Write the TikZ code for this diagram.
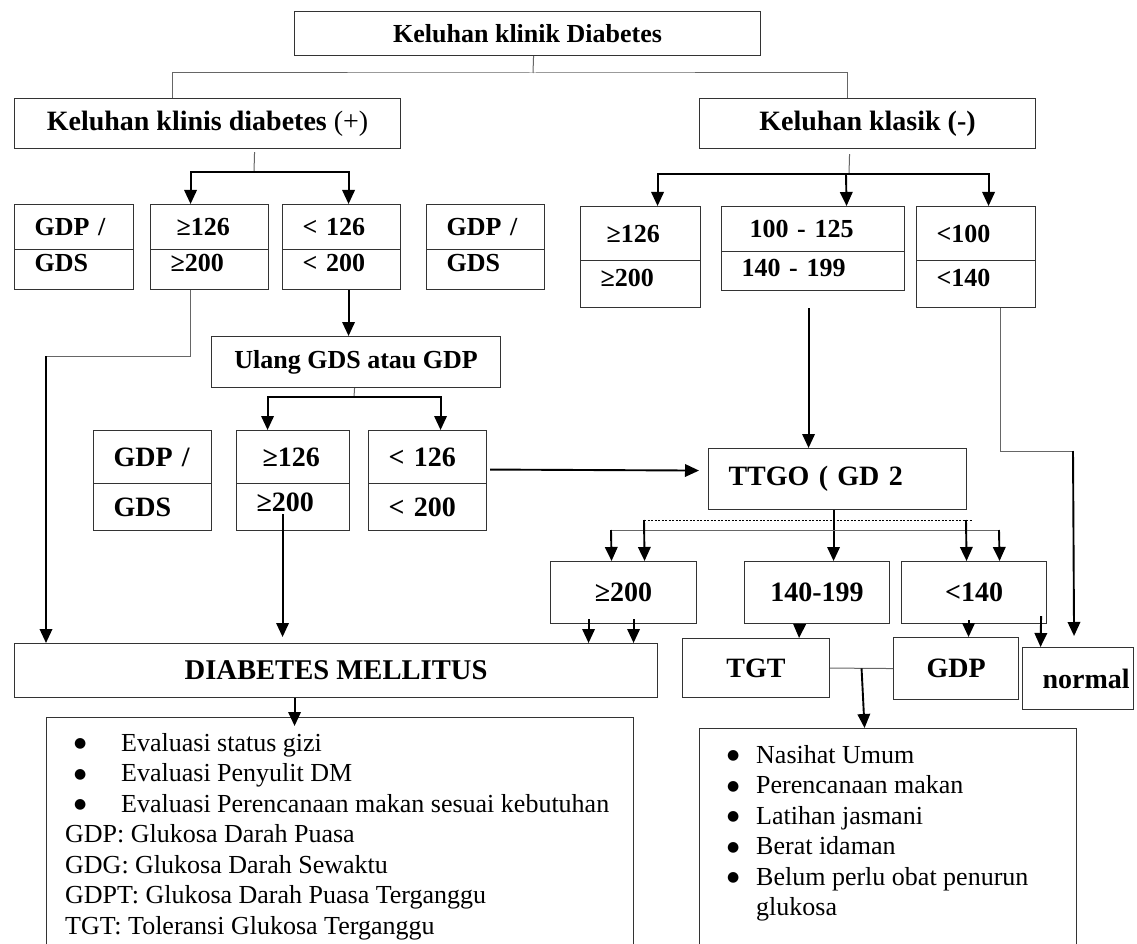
\documentclass[tikz,border=0pt]{standalone}
\usepackage{fontspec}
\setmainfont{Liberation Serif}
\newfontfamily\dotfont{DejaVu Sans}
\usetikzlibrary{arrows.meta,calc}

\newcommand{\labfont}{\fontsize{26}{31}\selectfont\bfseries}
\newcommand{\headfont}{\fontsize{28}{33}\selectfont\bfseries}
\newcommand{\dmfont}{\fontsize{28.6}{34}\selectfont\bfseries}
\newcommand{\listfont}{\fontsize{26}{30.5}\selectfont}
\newcommand{\gdbullet}{\raisebox{3.5pt}{\dotfont\fontsize{14}{14}\selectfont ●}}

\tikzset{
  box/.style={draw=black!80, line width=1.1pt, anchor=north west, inner sep=0pt},
  cell/.style={box, inner xsep=20pt, align=left, font=\labfont},
  link/.style={draw=black!60, line width=1pt},
  arr/.style={line width=1.9pt, -{Triangle[length=14pt,width=12.5pt]}},
}

% half of a split box: [options]{name}{x}{y}{width}{height}{text}
\newcommand{\gdcell}[7][]{%
  \pgfmathsetmacro{\celltw}{#5-40}%
  \node[cell, #1, minimum height=#6pt, text width=\celltw pt] (#2) at (#3,#4) {#7};}

\begin{document}
\begin{tikzpicture}[x=1pt,y=-1pt]

  \useasboundingbox (0,0) rectangle (1137,944);
  \fill[white] (0,0) rectangle (1137,944);

  % top of the tree
  \node[box, minimum width=466pt, minimum height=44pt, font=\labfont] (top) at (294,11) {Keluhan klinik Diabetes};
  \node[box, minimum width=386pt, minimum height=50pt, font=\headfont] (klinis) at (14,98) {Keluhan klinis diabetes \textmd{(+)}};
  \node[box, minimum width=336pt, minimum height=50pt, font=\headfont] (klasik) at (699,98) {Keluhan klasik (-)};

  \coordinate (forkA) at (533,73);
  \draw[link] ([xshift=6pt]top.south) -- (forkA);
  \draw[link] ([xshift=-35pt]klinis.north) |- (forkA) -| ([xshift=-20pt]klasik.north);

  % first test, complaints present
  \gdcell{A1}{14}{204}{119}{45}{GDP /}
  \gdcell[text depth=14pt]{A2}{14}{249}{119}{40}{GDS}
  \gdcell{B1}{150}{204}{118}{45}{\hspace*{6pt}≥126}
  \gdcell[text depth=14pt]{B2}{150}{249}{118}{40}{≥200}
  \gdcell{C1}{282}{204}{118}{45}{< 126}
  \gdcell[text depth=14pt]{C2}{282}{249}{118}{40}{< 200}
  \gdcell{D1}{426}{204}{118}{45}{GDP /}
  \gdcell[text depth=14pt]{D2}{426}{249}{118}{40}{GDS}

  \coordinate (forkB) at (254,172);
  \draw[link] ([xshift=47pt,yshift=-3pt]klinis.south) -- (forkB);
  \draw[arr] (forkB) -| ([xshift=-19pt]B1.north);
  \draw[arr] (forkB) -| ([xshift=7pt]C1.north);

  % first test, complaints absent
  \gdcell{E1}{580}{206}{120}{54}{\hspace*{6pt}≥126}
  \gdcell[text depth=13pt]{E2}{580}{260}{120}{47}{≥200}
  \gdcell{F1}{721}{206}{183}{45}{\hspace*{8pt}100 - 125}
  \gdcell[text depth=7pt]{F2}{721}{251}{183}{39}{140 - 199}
  \gdcell{G1}{916}{206}{119}{54}{<100}
  \gdcell[text depth=13pt]{G2}{916}{260}{119}{47}{<140}

  \coordinate (forkC) at (849,174);
  \draw[link] ([xshift=-18pt,yshift=-5pt]klasik.south) -- (forkC);
  \draw[arr] (forkC) -| ([xshift=17pt]E1.north);
  \draw[arr] ([xshift=-3pt]forkC) -- ([xshift=33.5pt]F1.north);
  \draw[arr] (forkC) -| ([xshift=12.5pt]G1.north);

  % repeat test
  \node[box, minimum width=289pt, minimum height=51pt, font=\labfont] (ulang) at (211,336) {Ulang GDS atau GDP};
  \draw[arr] ([xshift=7pt]C2.south) -- ([xshift=-7.5pt]ulang.north);

  \gdcell[font=\headfont]{H1}{93}{430}{118}{53}{GDP /}
  \gdcell[font=\headfont]{H2}{93}{483}{118}{47}{GDS}
  \gdcell[font=\headfont]{I1}{236}{430}{113}{53}{\hspace*{6pt}≥126}
  \gdcell[font=\headfont, text depth=9pt]{I2}{236}{483}{113}{47}{≥200}
  \gdcell[font=\headfont]{J1}{368}{430}{118}{53}{< 126}
  \gdcell[font=\headfont]{J2}{368}{483}{118}{47}{< 200}

  \coordinate (forkD) at (354,397);
  \draw[link] ([xshift=-1.5pt]ulang.south) -- (forkD);
  \draw[arr] (forkD) -| ([xshift=-25.5pt]I1.north);
  \draw[arr] (forkD) -| ([xshift=13pt]J1.north);

  % TTGO
  \gdcell[font=\headfont, text depth=7pt]{TTGO}{708}{448}{258}{61}{TTGO ( GD 2}
  \draw[arr] ([xshift=3pt,yshift=-12.5pt]J1.east) -- ([xshift=-9pt,yshift=8.5pt]TTGO.west);
  \draw[arr] ([xshift=-4.5pt,yshift=-17pt]F2.south) -- ([xshift=-29pt]TTGO.north);

  \node[box, minimum width=146pt, minimum height=62pt, font=\headfont] (high) at (550,561) {≥200};
  \node[box, minimum width=145pt, minimum height=62pt, font=\headfont] (mid) at (744,561) {140-199};
  \node[box, minimum width=145pt, minimum height=62pt, font=\headfont] (low) at (901,561) {<140};

  \coordinate (solidL) at (611,530);
  \coordinate (solidR) at (999,530);
  \coordinate (dotL) at (644,520);
  \coordinate (dotR) at (966,520);
  \draw[arr] ([xshift=-4pt]TTGO.south) -- ([xshift=16.5pt]mid.north);
  \draw[link] (solidL) -- (solidR);
  \draw[line width=0.8pt, dash pattern=on 2pt off 1.5pt] (dotL) -- ([xshift=6pt]dotR);
  \draw[arr] (solidL) -- ([xshift=-12pt]high.north);
  \draw[arr] (dotL) -- ([xshift=21pt]high.north);
  \draw[arr] (dotR) -- ([xshift=-7.5pt]low.north);
  \draw[arr] (solidR) -- ([xshift=25.5pt]low.north);

  % results
  \node[box, minimum width=643pt, minimum height=54pt, font=\dmfont] (DM) at (14,643) {DIABETES MELLITUS};
  \node[box, minimum width=147pt, minimum height=59pt, font=\headfont] (TGT) at (682,638) {TGT};
  \node[box, minimum width=125pt, minimum height=62pt, font=\headfont] (GDPbox) at (893,637) {GDP};
  \node[box, minimum width=111pt, minimum height=62pt, font=\headfont] (normal) at (1022,647) {\hspace*{16pt}normal};

  \coordinate (bendB) at (46,356);
  \draw[link] ([xshift=-19pt]B2.south) |- (bendB);
  \draw[arr] (bendB) -- ([xshift=32pt]DM.north west);
  \draw[arr] ([xshift=-10.5pt,yshift=17pt]I2.south) -- ([xshift=-53.5pt,yshift=6pt]DM.north);
  \draw[arr] ([xshift=-35pt,yshift=5pt]high.south) -- ([xshift=252.5pt]DM.north);
  \draw[arr] ([xshift=10pt,yshift=5pt]high.south) -- ([xshift=297.5pt]DM.north);
  \draw[arr] ([xshift=-17.5pt]mid.south) -- ([xshift=43pt]TGT.north);
  \draw[arr] ([xshift=-5.5pt,yshift=4pt]low.south) -- ([xshift=12.5pt]GDPbox.north);
  \draw[arr] ([xshift=-6pt,yshift=8pt]low.south east) -- ([xshift=-37.5pt]normal.north);

  \coordinate (bendG) at (1073,451);
  \draw[link] ([xshift=24.5pt]G2.south) |- (bendG);
  \draw[arr] (bendG) -- ([xshift=-4pt,yshift=11pt]normal.north);

  % advice boxes
  \node[box, minimum width=587pt, minimum height=240pt] (lbox) at (46,717) {};
  \node[box, minimum width=377pt, minimum height=230pt] (rbox) at (699,728) {};

  \draw[link] (TGT.east) -- (GDPbox.west);
  \draw[arr] ($(TGT.east)!.5!(GDPbox.west)$) -- ([xshift=-23.5pt]rbox.north);
  \draw[arr] ([xshift=-41.5pt]DM.south) -- ([xshift=-45.5pt,yshift=-9pt]lbox.north);

  \node[anchor=north west, inner sep=0pt, align=left, font=\listfont] (ltext) at (65,733) {%
    \makebox[56pt][l]{\hspace*{9pt}\gdbullet}Evaluasi status gizi\\
    \makebox[56pt][l]{\hspace*{9pt}\gdbullet}Evaluasi Penyulit DM\\
    \makebox[56pt][l]{\hspace*{9pt}\gdbullet}Evaluasi Perencanaan makan sesuai kebutuhan\\
    GDP: Glukosa Darah Puasa\\
    GDG: Glukosa Darah Sewaktu\\
    GDPT: Glukosa Darah Puasa Terganggu\\
    TGT: Toleransi Glukosa Terganggu};
  \node[anchor=north west, inner sep=0pt, align=left, font=\listfont] (rtext) at (727,745) {%
    \makebox[29pt][l]{\gdbullet}Nasihat Umum\\
    \makebox[29pt][l]{\gdbullet}Perencanaan makan\\
    \makebox[29pt][l]{\gdbullet}Latihan jasmani\\
    \makebox[29pt][l]{\gdbullet}Berat idaman\\
    \makebox[29pt][l]{\gdbullet}Belum perlu obat penurun\\
    \hspace*{29pt}glukosa};

\end{tikzpicture}
\end{document}
